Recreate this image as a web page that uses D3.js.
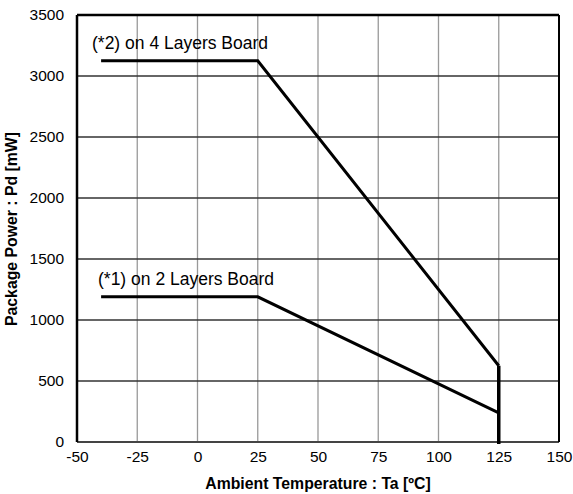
<!DOCTYPE html>
<html>
<head>
<meta charset="utf-8">
<script src="https://d3js.org/d3.v7.min.js"></script>
<style>
  html, body { margin: 0; padding: 0; background: #fff; }
  svg { display: block; }
  text { font-family: "Liberation Sans", Arial, sans-serif; fill: #000; }
</style>
</head>
<body>
<svg width="573" height="494"></svg>
<script>
// data
const temps = [-40, 25, 125];
const board4 = [3125, 3125, 625];
const board2 = [1190, 1190, 238];
const dropTemp = 125;
const xTicks = [-50, -25, 0, 25, 50, 75, 100, 125, 150];
const yTicks = [0, 500, 1000, 1500, 2000, 2500, 3000, 3500];

const margin = {top: 15, right: 14, bottom: 52, left: 77};
const width = 573 - margin.left - margin.right;
const height = 494 - margin.top - margin.bottom;

const svg = d3.select("svg");
const g = svg.append("g").attr("transform", `translate(${margin.left},${margin.top})`);

const x = d3.scaleLinear().domain([-50, 150]).range([0, width]);
const y = d3.scaleLinear().domain([0, 3500]).range([height, 0]);

// grid
g.append("g").selectAll("line").data(xTicks.slice(1, -1)).join("line")
  .attr("x1", d => x(d)).attr("x2", d => x(d))
  .attr("y1", 0).attr("y2", height)
  .attr("stroke", "#999").attr("stroke-width", 1.3);
g.append("g").selectAll("line").data(yTicks.slice(1, -1)).join("line")
  .attr("x1", 0).attr("x2", width)
  .attr("y1", d => y(d)).attr("y2", d => y(d))
  .attr("stroke", "#333").attr("stroke-width", 1.3);

// frame
g.append("line").attr("x1", 0).attr("x2", width).attr("y1", height).attr("y2", height)
  .attr("stroke", "#444").attr("stroke-width", 2);
g.append("line").attr("x1", width).attr("x2", width).attr("y1", 0).attr("y2", height)
  .attr("stroke", "#000").attr("stroke-width", 2);
g.append("line").attr("x1", 0).attr("x2", width).attr("y1", 0).attr("y2", 0)
  .attr("stroke", "#000").attr("stroke-width", 2.5);
g.append("line").attr("x1", 0).attr("x2", 0).attr("y1", 0).attr("y2", height)
  .attr("stroke", "#000").attr("stroke-width", 2.5);

// axes (plain hyphen for negatives, as in the original)
const xAxis = g.append("g").attr("transform", `translate(0,${height})`)
  .call(d3.axisBottom(x).tickValues(xTicks).tickSize(0).tickPadding(9).tickFormat(d => String(d)));
const yAxis = g.append("g")
  .call(d3.axisLeft(y).tickValues(yTicks).tickSize(0).tickPadding(13).tickFormat(d => String(d)));
[xAxis, yAxis].forEach(a => {
  a.select(".domain").remove();
  a.selectAll("text").style("font-size", "15.5px").style("font-family", '"Liberation Sans", Arial, sans-serif');
});

// curves
const line = d3.line().x(d => x(d[0])).y(d => y(d[1]));
[board4, board2].forEach(vals => {
  g.append("path")
    .datum(temps.map((t, i) => [t, vals[i]]))
    .attr("d", line)
    .attr("fill", "none").attr("stroke", "#000").attr("stroke-width", 3)
    .attr("stroke-linejoin", "miter");
});
g.append("line")
  .attr("x1", x(dropTemp)).attr("x2", x(dropTemp))
  .attr("y1", y(board4[2])).attr("y2", y(0) + 2)
  .attr("stroke", "#000").attr("stroke-width", 3.5);

// labels
g.append("text").attr("x", 92 - margin.left).attr("y", 49 - margin.top)
  .style("font-size", "17.5px").text("(*2) on 4 Layers Board");
g.append("text").attr("x", 98 - margin.left).attr("y", 285 - margin.top)
  .style("font-size", "17.5px").text("(*1) on 2 Layers Board");

svg.append("text").attr("x", 318).attr("y", 489)
  .attr("text-anchor", "middle").style("font-size", "15.8px").style("font-weight", "bold")
  .text("Ambient Temperature : Ta [ºC]");
svg.append("text").attr("transform", `translate(17,229) rotate(-90)`)
  .attr("text-anchor", "middle").style("font-size", "15.8px").style("font-weight", "bold")
  .text("Package Power : Pd [mW]");
</script>
</body>
</html>
